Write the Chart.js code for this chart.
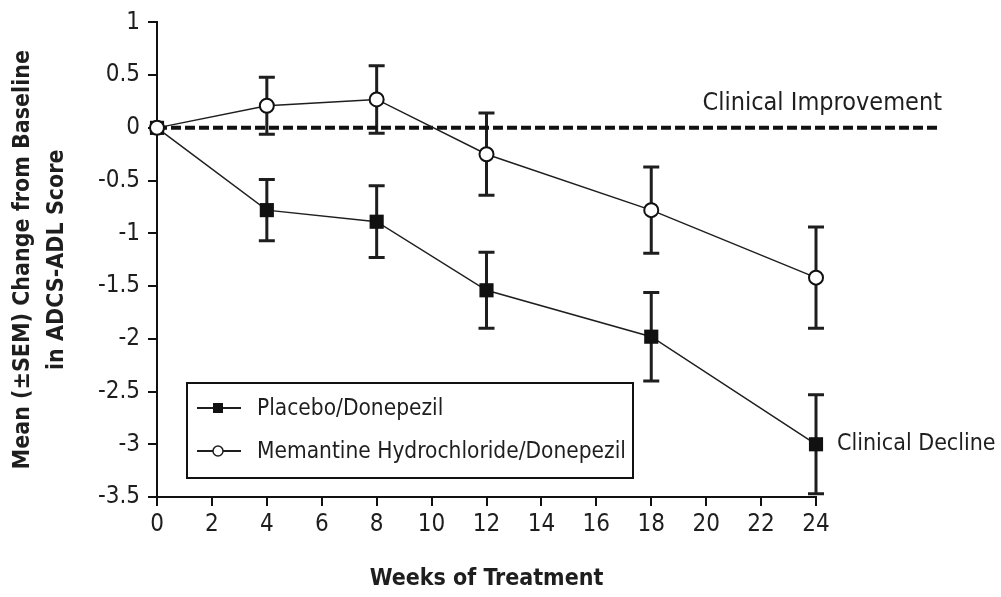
<!DOCTYPE html>
<html>
<head>
<meta charset="utf-8">
<script src="https://cdn.jsdelivr.net/npm/chart.js@4.4.1/dist/chart.umd.min.js"></script>
<style>
  html, body { margin: 0; padding: 0; background: #fff; }
  #wrap { width: 1001px; height: 597px; }
</style>
</head>
<body>
<div id="wrap"><canvas id="chart" width="1001" height="597"></canvas></div>
<script>
const weeks = [0, 4, 8, 12, 18, 24];
const placeboMean = [0, -0.78, -0.89, -1.54, -1.98, -3.0];
const placeboSem = [0, 0.29, 0.34, 0.36, 0.42, 0.47];
const memantineMean = [0, 0.21, 0.27, -0.25, -0.78, -1.42];
const memantineSem = [0, 0.27, 0.32, 0.39, 0.41, 0.48];
const seriesLabels = ["Placebo/Donepezil", "Memantine Hydrochloride/Donepezil"];
const xTicks = [0, 2, 4, 6, 8, 10, 12, 14, 16, 18, 20, 22, 24];
const yTicks = [1, 0.5, 0, -0.5, -1, -1.5, -2, -2.5, -3, -3.5];

const FONT = '"Liberation Sans Narrow", "DejaVu Sans Condensed", "Liberation Sans", sans-serif';
const INK = "#1e1e1e";

const toPoints = (xs, ys) => xs.map((x, i) => ({ x: x, y: ys[i] }));

// error bars drawn under the markers
const errorBars = {
  id: "errorBars",
  beforeDatasetsDraw(chart) {
    const { ctx, scales: { x, y } } = chart;
    ctx.save();
    ctx.strokeStyle = INK;
    ctx.lineWidth = 3;
    chart.data.datasets.forEach(ds => {
      if (!ds.sem) return;
      ds.data.forEach((p, i) => {
        const s = ds.sem[i];
        if (!s) return;
        const px = x.getPixelForValue(p.x);
        const top = y.getPixelForValue(p.y + s);
        const bot = y.getPixelForValue(p.y - s);
        ctx.beginPath();
        ctx.moveTo(px, top); ctx.lineTo(px, bot);
        ctx.moveTo(px - 8, top); ctx.lineTo(px + 8, top);
        ctx.moveTo(px - 8, bot); ctx.lineTo(px + 8, bot);
        ctx.stroke();
      });
    });
    ctx.restore();
  }
};

// dashed zero line, side labels and boxed legend
const extras = {
  id: "extras",
  beforeDatasetsDraw(chart) {
    const { ctx, scales: { x, y } } = chart;
    const y0 = y.getPixelForValue(0);
    ctx.save();
    ctx.strokeStyle = "#111";
    ctx.lineWidth = 4;
    ctx.setLineDash([10, 4]);
    ctx.beginPath();
    ctx.moveTo(x.getPixelForValue(0), y0);
    ctx.lineTo(940, y0);
    ctx.stroke();
    ctx.restore();
  },
  afterDraw(chart) {
    const { ctx, scales: { x, y } } = chart;
    ctx.save();
    ctx.fillStyle = INK;
    ctx.font = "25px " + FONT;
    ctx.textBaseline = "middle";
    ctx.textAlign = "right";
    ctx.fillText("Clinical Improvement", 942, y.getPixelForValue(0) - 24);
    ctx.font = "23px " + FONT;
    ctx.textAlign = "left";
    ctx.fillText("Clinical Decline", x.getPixelForValue(24) + 21, y.getPixelForValue(placeboMean[5]));

    // legend box
    ctx.strokeStyle = "#111";
    ctx.lineWidth = 2;
    ctx.strokeRect(187, 383, 446, 95);
    chart.data.datasets.forEach((ds, i) => {
      if (!ds.label) return;
      const ly = 408 + i * 43;
      ctx.strokeStyle = INK;
      ctx.lineWidth = 2;
      ctx.beginPath();
      ctx.moveTo(197, ly); ctx.lineTo(241, ly);
      ctx.stroke();
      if (ds.pointStyle === "rect") {
        ctx.fillStyle = "#111";
        ctx.fillRect(213, ly - 5, 10, 10);
      } else {
        ctx.fillStyle = "#fff";
        ctx.lineWidth = 1.5;
        ctx.beginPath();
        ctx.arc(218, ly, 5, 0, Math.PI * 2);
        ctx.fill(); ctx.stroke();
      }
      ctx.fillStyle = INK;
      ctx.font = "22.5px " + FONT;
      ctx.textAlign = "left";
      ctx.fillText(ds.label, 257, ly + 1);
    });
    ctx.restore();
  }
};

new Chart(document.getElementById("chart"), {
  type: "line",
  data: {
    datasets: [
      {
        label: seriesLabels[0],
        data: toPoints(weeks, placeboMean),
        sem: placeboSem,
        order: 1,
        borderColor: INK,
        borderWidth: 1.5,
        pointStyle: "rect",
        pointRadius: 10,
        pointBackgroundColor: "#111",
        pointBorderColor: "#111",
        pointBorderWidth: 0,
        tension: 0,
        clip: false
      },
      {
        label: seriesLabels[1],
        data: toPoints(weeks, memantineMean),
        sem: memantineSem,
        order: 0,
        borderColor: INK,
        borderWidth: 1.5,
        pointStyle: "circle",
        pointRadius: 7,
        pointBackgroundColor: "#fff",
        pointBorderColor: "#111",
        pointBorderWidth: 2,
        tension: 0,
        clip: false
      }
    ]
  },
  options: {
    responsive: false,
    animation: false,
    layout: { padding: { top: 22, right: 185, left: 0, bottom: 0 } },
    plugins: {
      legend: { display: false },
      tooltip: { enabled: false }
    },
    scales: {
      x: {
        type: "linear",
        min: 0,
        max: 24,
        afterFit: s => { s.height = 100; },
        afterBuildTicks: s => { s.ticks = xTicks.map(v => ({ value: v })); },
        grid: { drawOnChartArea: false, drawTicks: true, tickLength: 9, color: "#111", lineWidth: 2 },
        border: { display: true, color: "#111", width: 2 },
        ticks: { color: INK, font: { family: FONT, size: 24 }, padding: 4, maxRotation: 0 },
        title: {
          display: true,
          text: "Weeks of Treatment",
          color: INK,
          font: { family: FONT, size: 23, weight: "bold" },
          padding: { top: 14 }
        }
      },
      y: {
        min: -3.5,
        max: 1,
        afterFit: s => { s.width = 157; },
        afterBuildTicks: s => { s.ticks = yTicks.map(v => ({ value: v })); },
        grid: { drawOnChartArea: false, drawTicks: true, tickLength: 9, color: "#111", lineWidth: 2 },
        border: { display: true, color: "#111", width: 2 },
        ticks: { color: INK, font: { family: FONT, size: 24 }, padding: 8, callback: v => String(v) },
        title: {
          display: true,
          text: ["Mean (\u00b1SEM) Change from Baseline", "in ADCS-ADL Score"],
          color: INK,
          font: { family: FONT, size: 23, weight: "bold", lineHeight: 1.48 },
          padding: { top: 6, bottom: 0 }
        }
      }
    }
  },
  plugins: [errorBars, extras]
});
</script>
</body>
</html>
